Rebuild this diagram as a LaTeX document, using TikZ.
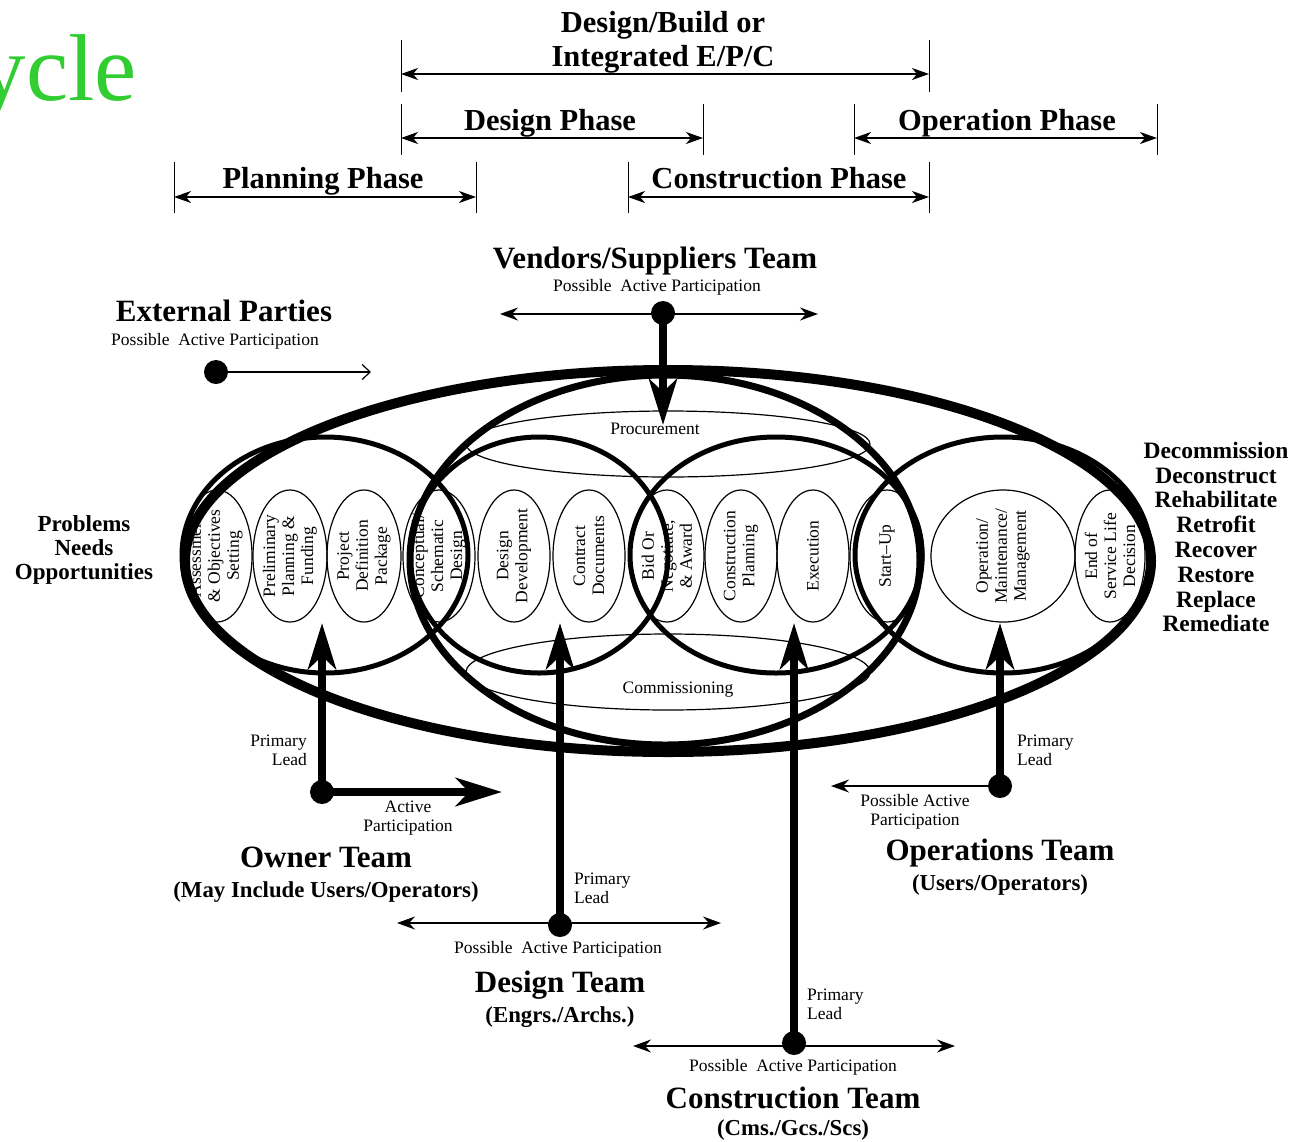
\documentclass[tikz,border=0pt]{standalone}
\usepackage{fontspec}
\setmainfont{Liberation Serif}
\usetikzlibrary{positioning}
\usetikzlibrary{arrows.meta}
\definecolor{cyclegreen}{RGB}{50,205,50}

\tikzset{
    spanline/.style={line width=1.4pt, {Stealth[length=17pt,width=12pt,inset=5pt]}-{Stealth[length=17pt,width=12pt,inset=5pt]}},
    spantick/.style={line width=0.9pt},
    phaselbl/.style={font=\fontsize{30.5}{34}\selectfont\bfseries, align=center, inner sep=0pt},
    teamlbl/.style={font=\fontsize{31}{34}\selectfont\bfseries, inner sep=0pt},
    teamsub/.style={font=\fontsize{22.8}{24}\selectfont\bfseries, inner sep=0pt},
    smalltxt/.style={font=\fontsize{17.5}{19}\selectfont, inner sep=0pt},
    stagebox/.style={line width=1.2pt},
    stagetxt/.style={font=\fontsize{17.5}{19}\selectfont, align=center, rotate=90, inner sep=0pt},
    ring/.style={line width=5pt},
    leadline/.style={line width=8.5pt, -{Stealth[length=46pt,width=28pt,inset=13pt]}},
    partline/.style={line width=1.3pt, {Stealth[length=18pt,width=13pt,inset=6pt]}-{Stealth[length=18pt,width=13pt,inset=6pt]}},
    partone/.style={line width=1.3pt, -{Stealth[length=18pt,width=13pt,inset=6pt]}},
    teamdot/.style={circle, fill=black, inner sep=0pt, minimum size=24pt},
}

\begin{document}
\begin{tikzpicture}[x=1pt, y=-1pt]
    \useasboundingbox (0,0) rectangle (1293,1141);
    \clip (0,0) rectangle (1293,1141);

    % Title, cut off by the page edge
    \node[font=\fontsize{95}{95}\selectfont, text=cyclegreen, anchor=base east, inner sep=0pt] (cycleTtl) at (137,100) {Cycle};

    % Phase spans along the top
    \node[phaselbl] (dbLbl) at (663,42) {Design/Build or\\Integrated E/P/C};
    \coordinate (dbL) at (401,74);
    \coordinate (dbR) at (929,74);
    \draw[spantick] (401,40) -- (401,92);
    \draw[spantick] (929,40) -- (929,92);
    \draw[spanline] (dbL) -- (dbR);

    \node[phaselbl, anchor=base] (desPh) at (550,130) {Design Phase};
    \coordinate (desPhL) at (401,138);
    \coordinate (desPhR) at (703,138);
    \draw[spantick] (401,104) -- (401,155);
    \draw[spantick] (703,104) -- (703,155);
    \draw[spanline] (desPhL) -- (desPhR);

    \node[phaselbl, anchor=base] (opPh) at (1007,130) {Operation Phase};
    \coordinate (opPhL) at (854,138);
    \coordinate (opPhR) at (1157,138);
    \draw[spantick] (854,104) -- (854,155);
    \draw[spantick] (1157,104) -- (1157,155);
    \draw[spanline] (opPhL) -- (opPhR);

    \node[phaselbl, anchor=base] (plPh) at (323,188) {Planning Phase};
    \coordinate (plPhL) at (174,197);
    \coordinate (plPhR) at (476,197);
    \draw[spantick] (174,162) -- (174,213);
    \draw[spantick] (476,162) -- (476,213);
    \draw[spanline] (plPhL) -- (plPhR);

    \node[phaselbl, anchor=base] (coPh) at (779,188) {Construction Phase};
    \coordinate (coPhL) at (628,197);
    \coordinate (coPhR) at (929,197);
    \draw[spantick] (628,162) -- (628,213);
    \draw[spantick] (929,162) -- (929,213);
    \draw[spanline] (coPhL) -- (coPhR);

    % Procurement and commissioning bands
    \draw[stagebox] (668,444) ellipse [x radius=202, y radius=33];
    \node[smalltxt, anchor=base] (procLbl) at (655,434) {Procurement};
    \draw[stagebox] (668,672) ellipse [x radius=202, y radius=38];
    \node[smalltxt, anchor=base] (commLbl) at (678,693) {Commissioning};

    % Stages of the life cycle
    \draw[stagebox] (217,556) ellipse [x radius=35, y radius=66];
    \node[stagetxt] (asmt) at (216,556) {Assessment\\\& Objectives\\Setting};
    \draw[stagebox] (290,556) ellipse [x radius=37, y radius=66];
    \node[stagetxt] (prelim) at (290,556) {Preliminary\\Planning \&\\Funding};
    \draw[stagebox] (364,556) ellipse [x radius=37, y radius=66];
    \node[stagetxt] (projdef) at (364,556) {Project\\Definition\\Package};
    \draw[stagebox] (439,556) ellipse [x radius=36, y radius=66];
    \node[stagetxt] (concept) at (439,556) {Conceptual/\\Schematic\\Design};
    \draw[stagebox] (514,556) ellipse [x radius=36, y radius=66];
    \node[stagetxt] (desdev) at (514,556) {Design\\Development};
    \draw[stagebox] (589,556) ellipse [x radius=36, y radius=66];
    \node[stagetxt] (contract) at (589,556) {Contract\\Documents};
    \draw[stagebox] (667,556) ellipse [x radius=37, y radius=66];
    \node[stagetxt] (bid) at (667,556) {Bid Or\\Negotiate,\\\& Award};
    \draw[stagebox] (741,556) ellipse [x radius=36, y radius=66];
    \node[stagetxt] (conplan) at (741,556) {Construction\\Planning};
    \draw[stagebox] (813,556) ellipse [x radius=36, y radius=66];
    \node[stagetxt] (exec) at (813,556) {Execution};
    \draw[stagebox] (887,556) ellipse [x radius=37, y radius=66];
    \node[stagetxt] (startup) at (887,556) {Start--Up};
    \draw[stagebox] (1003,556) ellipse [x radius=72, y radius=66];
    \node[stagetxt] (operate) at (1003,556) {Operation/\\Maintenance/\\Management};
    \draw[stagebox] (1110,556) ellipse [x radius=35, y radius=66];
    \node[stagetxt] (eosl) at (1110,556) {End of\\Service Life\\Decision};

    % Phase rings, design/build ring and the whole life cycle
    \draw[ring] (325,555) ellipse [x radius=143, y radius=118];
    \draw[ring] (539,555) ellipse [x radius=129, y radius=118];
    \draw[ring] (776,555) ellipse [x radius=146, y radius=118];
    \draw[ring] (1003,555) ellipse [x radius=148, y radius=118];
    \draw[line width=7pt] (665,560) ellipse [x radius=255, y radius=185];
    \draw[line width=10pt] (668,561) ellipse [x radius=483, y radius=191];

    % Side texts
    \node[font=\fontsize{23}{24}\selectfont\bfseries, align=center, inner sep=0pt] (needs) at (84,550) {Problems\\Needs\\Opportunities};
    \node[font=\fontsize{23.5}{24.8}\selectfont\bfseries, align=center, inner sep=0pt] (endopts) at (1216,537)
        {Decommission\\Deconstruct\\Rehabilitate\\Retrofit\\Recover\\Restore\\Replace\\Remediate};

    % Vendors/Suppliers team
    \node[teamlbl, anchor=base] (vendLbl) at (655,268) {Vendors/Suppliers Team};
    \node[smalltxt, anchor=base] (vendPart) at (657,291) {Possible\ \ Active Participation};
    \coordinate (vendL) at (500,314);
    \coordinate (vendR) at (818,314);
    \draw[partline] (vendL) -- (vendR);
    \node[teamdot] (vendDot) at (663,313) {};
    \coordinate (vendTip) at (663,425);
    \draw[leadline] (vendDot.center) -- (vendTip);

    % External parties
    \node[teamlbl, anchor=base] (extLbl) at (224,321) {External Parties};
    \node[smalltxt, anchor=base] (extPart) at (215,345) {Possible\ \ Active Participation};
    \node[teamdot] (extDot) at (216,372) {};
    \coordinate (extTip) at (371,372);
    \draw[line width=1.2pt, -{Straight Barb[length=8pt,width=15pt]}] (extDot) -- (extTip);

    % Owner team
    \node[teamdot] (ownDot) at (322,792) {};
    \coordinate (ownTip) at (322,623);
    \coordinate (ownRight) at (502,792);
    \draw[leadline] (ownDot.center) -- (ownTip);
    \draw[leadline] (ownDot.center) -- (ownRight);
    \node[smalltxt, align=right, anchor=east] (ownPrim) at (307,750) {Primary\\Lead};
    \node[smalltxt, align=center] (ownAct) at (408,818) {Active\\Participation};
    \node[teamlbl, anchor=base] (ownLbl) at (326,867) {Owner Team};
    \node[teamsub, anchor=base] (ownSub) at (326,897) {(May Include Users/Operators)};

    % Design team
    \coordinate (desL) at (397,923);
    \coordinate (desR) at (721,923);
    \draw[partline] (desL) -- (desR);
    \node[teamdot] (desDot) at (560,925) {};
    \coordinate (desTip) at (560,623);
    \draw[leadline] (desDot.center) -- (desTip);
    \node[smalltxt, align=left, anchor=west] (desPrim) at (574,888) {Primary\\Lead};
    \node[smalltxt, anchor=base] (desPart) at (558,953) {Possible\ \ Active Participation};
    \node[teamlbl, anchor=base] (desLbl) at (560,992) {Design Team};
    \node[teamsub, anchor=base] (desSub) at (560,1022) {(Engrs./Archs.)};

    % Construction team
    \coordinate (conL) at (633,1046);
    \coordinate (conR) at (955,1046);
    \draw[partline] (conL) -- (conR);
    \node[teamdot] (conDot) at (794,1043) {};
    \coordinate (conTip) at (794,623);
    \draw[leadline] (conDot.center) -- (conTip);
    \node[smalltxt, align=left, anchor=west] (conPrim) at (807,1004) {Primary\\Lead};
    \node[smalltxt, anchor=base] (conPart) at (793,1071) {Possible\ \ Active Participation};
    \node[teamlbl, anchor=base] (conLbl) at (793,1108) {Construction Team};
    \node[teamsub, anchor=base] (conSub) at (793,1135) {(Cms./Gcs./Scs)};

    % Operations team
    \node[teamdot] (opDot) at (1000,786) {};
    \coordinate (opTip) at (1000,623);
    \coordinate (opLeft) at (831,786);
    \draw[leadline] (opDot.center) -- (opTip);
    \draw[partone] (opDot) -- (opLeft);
    \node[smalltxt, align=left, anchor=west] (opPrim) at (1017,750) {Primary\\Lead};
    \node[smalltxt, align=center] (opPart) at (915,812) {Possible Active\\Participation};
    \node[teamlbl, anchor=base] (opLbl) at (1000,860) {Operations Team};
    \node[teamsub, anchor=base] (opSub) at (1000,890) {(Users/Operators)};
\end{tikzpicture}
\end{document}
